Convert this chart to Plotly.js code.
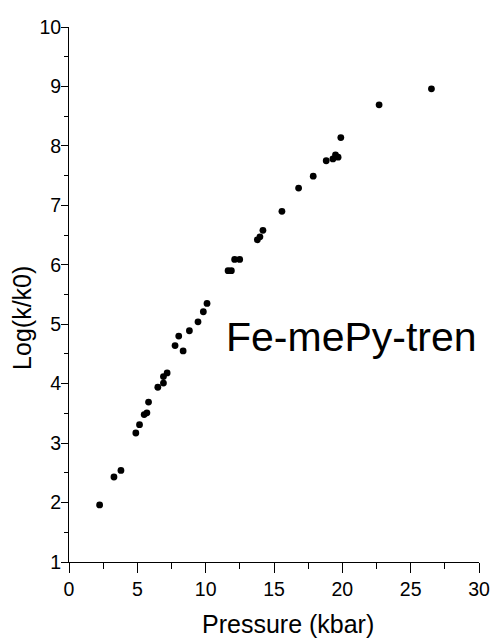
<!DOCTYPE html>
<html>
<head>
<meta charset="utf-8">
<script src="https://cdn.plot.ly/plotly-3.0.1.min.js"></script>
<style>
  html, body { margin: 0; padding: 0; background: #fff; }
  #chart { width: 491px; height: 639px; }
</style>
</head>
<body>
<div id="chart"></div>
<script>
// Pressure (kbar)
const pressure = [
  2.24, 3.29, 3.80, 4.89, 5.16, 5.50, 5.70, 5.82, 6.50, 6.91, 6.91, 7.18,
  7.76, 8.03, 8.35, 8.81, 9.44, 9.83, 10.10, 11.64, 11.88, 12.12, 12.49,
  13.78, 13.97, 14.19, 15.58, 16.80, 17.87, 18.82, 19.31, 19.50, 19.69,
  19.89, 22.69, 26.52
];
// Log(k/k0)
const logk = [
  1.96, 2.43, 2.54, 3.17, 3.31, 3.48, 3.51, 3.69, 3.94, 4.01, 4.12, 4.18,
  4.64, 4.80, 4.55, 4.89, 5.04, 5.21, 5.35, 5.90, 5.90, 6.09, 6.09,
  6.42, 6.47, 6.58, 6.90, 7.29, 7.49, 7.75, 7.78, 7.85, 7.81,
  8.14, 8.69, 8.96
];
const xTicks = [0, 5, 10, 15, 20, 25, 30];
const yTicks = [1, 2, 3, 4, 5, 6, 7, 8, 9, 10];
const label = "Fe-mePy-tren";
const xTitle = "Pressure (kbar)";
const yTitle = "Log(k/k0)";

const FONT = "Liberation Sans, Arial, Helvetica, sans-serif";

const trace = {
  x: pressure,
  y: logk,
  type: "scatter",
  mode: "markers",
  marker: { color: "#000", size: 6.8, symbol: "circle" },
  hoverinfo: "x+y",
  showlegend: false
};

const layout = {
  width: 491,
  height: 639,
  margin: { l: 69, r: 12, t: 27, b: 77, pad: 0 },
  paper_bgcolor: "#fff",
  plot_bgcolor: "#fff",
  font: { family: FONT, color: "#000", size: 19 },
  showlegend: false,
  xaxis: {
    range: [0, 30],
    tickvals: xTicks,
    ticktext: xTicks.map(String),
    ticks: "outside",
    ticklen: 10,
    tickwidth: 1,
    tickcolor: "#000",
    showline: true,
    linecolor: "#000",
    linewidth: 1,
    showgrid: false,
    zeroline: false,
    mirror: false,
    tickfont: { family: FONT, size: 19.5, color: "#000" },
    minor: { dtick: 2.5, tick0: 0, ticks: "outside", ticklen: 6, tickwidth: 1, tickcolor: "#000", showgrid: false }
  },
  yaxis: {
    range: [1, 10],
    tickvals: yTicks,
    ticktext: yTicks.map(String),
    ticks: "outside",
    ticklen: 7,
    tickwidth: 1,
    tickcolor: "#000",
    showline: true,
    linecolor: "#000",
    linewidth: 1,
    showgrid: false,
    zeroline: false,
    mirror: false,
    ticklabelstandoff: -4,
    tickfont: { family: FONT, size: 19.5, color: "#000" },
    minor: { dtick: 0.5, tick0: 0, ticks: "outside", ticklen: 4, tickwidth: 1, tickcolor: "#000", showgrid: false }
  },
  annotations: [
    {
      text: label, xref: "paper", yref: "paper",
      x: 0.69, y: 0.42, xanchor: "center", yanchor: "middle",
      showarrow: false, font: { family: FONT, size: 41, color: "#000" }
    },
    {
      text: xTitle, xref: "paper", yref: "paper",
      x: 0.535, y: -0.115, xanchor: "center", yanchor: "middle",
      showarrow: false, font: { family: FONT, size: 25, color: "#000" }
    },
    {
      text: yTitle, xref: "paper", yref: "paper",
      x: -0.115, y: 0.456, xanchor: "center", yanchor: "middle",
      textangle: -90,
      showarrow: false, font: { family: FONT, size: 25, color: "#000" }
    }
  ]
};

Plotly.newPlot("chart", [trace], layout, { displayModeBar: false, staticPlot: true });
</script>
</body>
</html>
